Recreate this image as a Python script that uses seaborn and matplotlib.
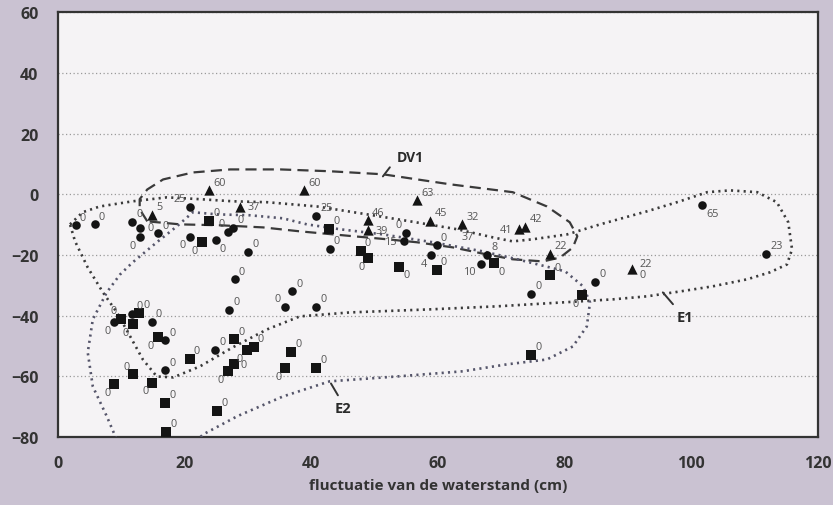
"""
Scatter of water level fluctuation vs. value, with the DV1, E1 and E2 envelopes.
"""
import seaborn as sns
import matplotlib.pyplot as plt
import pandas as pd

# marker data: circles
circle_x = [2.8, 5.8, 11.7, 13.0, 12.9, 15.8, 20.8, 20.8, 24.9, 26.9, 27.7, 30.0, 27.9, 40.8,
            42.9, 54.9, 54.7, 59.8, 58.9, 67.8, 66.8, 74.7, 84.8, 101.7, 111.8, 8.9, 11.7,
            14.8, 16.9, 16.9, 24.8, 27.0, 37.0, 35.8, 40.8]
circle_y = [-10.2, -9.9, -9.0, -11.0, -14.1, -12.9, -4.1, -13.9, -15.1, -12.3, -11.0, -19.0, -28.0,
            -7.1, -18.1, -12.8, -15.4, -16.8, -20.1, -20.0, -22.8, -32.7, -28.8, -3.5, -19.5,
            -42.1, -39.5, -42.0, -48.1, -58.0, -51.3, -38.1, -32.0, -37.1, -37.0]
circle_lab = ["0", "0", "0", "0", "0", "0", "25", "0", "0", "0", "0", "0", "0", "25",
              "0", "0", "15", "0", "4", "8", "10", "0", "0", "65", "23", "0", "0",
              "0", "0", "0", "0", "0", "0", "0", "0"]
circle_pos = ["ur", "ur", "ur", "r", "ll", "ur", "ul", "ll", "lr", "ul", "ur", "ur", "ur", "ur",
              "ur", "ul", "l", "ur", "ll", "ur", "ll", "ur", "ur", "lr", "ur", "ll", "ur",
              "ur", "ur", "ur", "ur", "ur", "ur", "ul", "ur"]

# squares
square_x = [22.7, 23.9, 42.8, 47.8, 49.0, 53.9, 59.8, 68.9, 77.7, 82.8, 74.7, 9.9, 12.8, 11.8,
            15.8, 11.9, 8.9, 14.9, 16.9, 17.1, 20.8, 25.1, 27.8, 26.8, 27.8, 29.8, 30.9,
            36.8, 35.9, 40.8]
square_y = [-15.8, -8.8, -11.3, -18.7, -21.1, -23.8, -24.9, -22.7, -26.7, -33.2, -52.9, -41.0,
            -39.0, -42.8, -47.0, -59.3, -62.6, -62.0, -68.6, -78.3, -54.1, -71.4, -47.8, -58.2,
            -56.0, -51.3, -50.2, -52.0, -57.3, -57.1]
square_lab = ["0"] * len(square_x)
square_pos = ["ll", "ur", "ur", "ur", "ll", "lr", "ur", "lr", "ur", "ll", "ur", "ul", "ur", "ll",
              "ll", "ul", "ll", "ll", "ur", "ur", "ur", "ur", "ur", "ll", "r", "ll", "ur",
              "ur", "ll", "ur"]

# triangles
tri_x = [14.9, 23.8, 28.8, 38.9, 48.9, 49.0, 56.7, 58.8, 63.8, 72.8, 73.8, 77.7, 90.7]
tri_y = [-6.8, 1.3, -4.1, 1.3, -8.6, -11.9, -2.0, -8.8, -9.9, -11.5, -10.8, -19.5, -24.5]
tri_lab = ["5", "60", "37", "60", "46", "39", "63", "45", "32", "41", "42", "22", "22\n0"]
tri_pos = ["ur", "ur", "r", "ur", "ur", "r", "ur", "ur", "ur", "l", "ur", "ur", "r"]

# loose label without a visible marker
free_x = [64.7]
free_y = [-13.8]
free_lab = ["37"]

# envelopes
dv1_x = [14.1, 12.9, 12.9, 14.1, 16.6, 21.3, 27.2, 35.1, 42.9, 51.3, 61.9, 71.8, 77.2, 80.8,
         82.0, 81.3, 79.3, 76.6, 71.8, 67.7, 62.4, 56.7, 51.9, 46.6, 38.2, 32.4, 25.6, 19.3, 14.1]
dv1_y = [-8.9, -4.9, -1.6, 1.6, 4.9, 7.2, 8.2, 8.2, 7.6, 6.6, 3.3, 0.7, -4.0, -9.2,
         -13.8, -17.5, -20.8, -22.1, -21.4, -19.8, -17.5, -15.8, -14.8, -13.8, -12.2, -10.9,
         -10.2, -9.9, -8.9]

e1_x = [1.9, 3.9, 6.6, 11.8, 17.2, 22.4, 27.6, 33.0, 40.9, 48.8, 55.6, 63.0, 68.7, 71.8, 75.0,
        80.4, 85.6, 93.0, 98.2, 102.5, 106.1, 110.4, 113.5, 115.3, 115.9, 115.1, 112.4, 108.8,
        103.4, 98.2, 93.0, 87.6, 79.7, 69.3, 58.7, 46.1, 38.2, 33.0, 27.6, 22.4, 18.2, 15.6,
        13.4, 11.4, 9.3, 7.1, 4.7, 2.7, 1.9]
e1_y = [-9.9, -5.9, -4.0, -2.3, -1.0, -1.6, -2.3, -2.6, -4.0, -6.6, -8.9, -11.5, -14.2, -15.5,
        -14.8, -13.2, -9.9, -5.6, -2.3, 0.7, 1.3, 0.7, -2.6, -9.2, -18.1, -23.1, -25.7, -28.0,
        -30.3, -32.0, -33.6, -34.6, -35.6, -36.9, -37.9, -38.9, -40.2, -44.5, -50.4, -56.7,
        -60.3, -60.0, -54.4, -46.8, -38.9, -32.3, -24.1, -15.5, -9.9]

e2_x = [9.6, 7.7, 5.5, 4.7, 5.5, 7.7, 9.8, 11.8, 15.6, 18.8, 21.3, 25.1, 30.3, 35.5, 39.3,
        44.5, 51.3, 59.2, 67.1, 72.5, 77.7, 80.1, 82.9, 84.0, 83.5, 81.3, 77.2, 70.9, 63.9,
        53.5, 42.9, 35.5, 28.3, 22.9, 21.3]
e2_y = [-82.4, -73.1, -63.3, -52.1, -41.2, -32.3, -26.4, -22.4, -15.8, -10.5, -5.9, -6.6, -6.9,
        -7.9, -9.9, -11.5, -13.2, -15.8, -18.8, -21.4, -24.1, -25.4, -30.3, -35.6, -43.5,
        -50.1, -54.4, -56.0, -58.3, -60.0, -61.6, -66.6, -73.1, -79.1, -82.4]

x_ticks = [0, 20, 40, 60, 80, 100, 120]
y_ticks = [-80, -60, -40, -20, 0, 20, 40, 60]

sns.set_theme(style="white")
plt.rcParams['font.family'] = ['Open Sans', 'DejaVu Sans']

fig = plt.figure(figsize=(8.33, 5.06), dpi=100, facecolor="#cac2d2")
ax = fig.add_axes([0.0696, 0.134, 0.9124, 0.840])
ax.set_facecolor("#f5f3f5")

df = pd.DataFrame({
    "x": circle_x + square_x + tri_x,
    "y": circle_y + square_y + tri_y,
    "kind": ["circle"] * len(circle_x) + ["square"] * len(square_x) + ["tri"] * len(tri_x),
})
markers = {"circle": "o", "square": "s", "tri": "^"}
sizes = {"circle": 38, "square": 50, "tri": 55}
for kind, grp in df.groupby("kind"):
    sns.scatterplot(data=grp, x="x", y="y", marker=markers[kind], s=sizes[kind],
                    color="#141414", edgecolor="#141414", linewidth=0, ax=ax, zorder=4,
                    legend=False)

# small numeric labels next to the markers
offsets = {"ur": ((3, 2), "left", "bottom"), "ul": ((-3, 2), "right", "bottom"),
           "ll": ((-3, -2), "right", "top"), "lr": ((3, -2), "left", "top"),
           "r": ((5, 0), "left", "center"), "l": ((-5, 0), "right", "center")}
for xs, ys, labs, poss in [(circle_x, circle_y, circle_lab, circle_pos),
                           (square_x, square_y, square_lab, square_pos),
                           (tri_x, tri_y, tri_lab, tri_pos)]:
    for xv, yv, lab, pos in zip(xs, ys, labs, poss):
        off, ha, va = offsets[pos]
        ax.annotate(lab, (xv, yv), xytext=off, textcoords="offset points", ha=ha, va=va,
                    fontsize=7.8, color="#555555", linespacing=1.0, zorder=5)
for xv, yv, lab in zip(free_x, free_y, free_lab):
    ax.text(xv, yv, lab, fontsize=7.8, color="#555555", ha="center", va="center", zorder=5)

# envelopes
dot = (0, (0.8, 1.6))
ax.plot(dv1_x, dv1_y, color="#3a3a3a", lw=1.6, linestyle=(0, (5, 2.8)), zorder=3)
ax.plot(e1_x, e1_y, color="#3a3a3a", lw=1.9, linestyle=dot, zorder=3)
ax.plot(e2_x, e2_y, color="#55556a", lw=1.9, linestyle=dot, zorder=3)

# envelope names with leader ticks
ax.plot([51.3, 52.4], [5.9, 8.9], color="#333333", lw=1.4)
ax.text(55.6, 12.2, "DV1", fontsize=10, fontweight="bold", color="#2a2a2a", ha="center", va="center")
ax.plot([95.5, 97.1], [-32.3, -36.2], color="#333333", lw=1.4)
ax.text(99.0, -40.5, "E1", fontsize=10.5, fontweight="bold", color="#2a2a2a", ha="center", va="center")
ax.plot([43.1, 44.2], [-62.3, -66.2], color="#333333", lw=1.4)
ax.text(45.0, -70.5, "E2", fontsize=10.5, fontweight="bold", color="#2a2a2a", ha="center", va="center")

ax.set_xlim(0, 120)
ax.set_ylim(-80, 60)
ax.set_xticks(x_ticks)
ax.set_yticks(y_ticks)
ax.tick_params(axis="both", direction="out", length=10, width=1.6, color="#333333",
               labelsize=11.5, labelcolor="#333333", pad=3)
ax.tick_params(axis="y", pad=4)
for lab in ax.get_xticklabels() + ax.get_yticklabels():
    lab.set_fontweight("bold")
ax.yaxis.grid(True, linestyle=(0, (1, 2)), color="#9a9a9a", lw=0.9)
ax.xaxis.grid(False)
for sp in ax.spines.values():
    sp.set_color("#333333")
    sp.set_linewidth(1.6)
ax.set_xlabel("fluctuatie van de waterstand (cm)", fontsize=11, fontweight="bold",
              color="#333333", labelpad=5)
ax.set_ylabel("")

fig.savefig("out.png", dpi=100, facecolor=fig.get_facecolor())
